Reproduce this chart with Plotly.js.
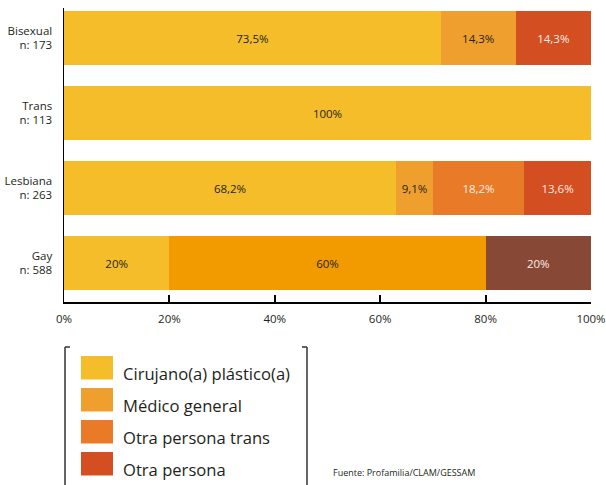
<!DOCTYPE html>
<html>
<head>
<meta charset="utf-8">
<script src="https://cdn.plot.ly/plotly-3.0.1.min.js"></script>
<style>html,body{margin:0;padding:0;background:#fff;}#chart{width:606px;height:485px;}</style>
</head>
<body>
<div id="chart"></div>
<script>
// ---- data ----
const categories = ['Bisexual', 'Trans', 'Lesbiana', 'Gay'];
const sampleSizes = [173, 113, 263, 588];

const cirujanoValues = [71.5, 100, 63.0, 20];
const cirujanoLabels = ['73,5%', '100%', '68,2%', '20%'];

const medicoValues = [14.2, null, 7.0, null];
const medicoLabels = ['14,3%', '', '9,1%', ''];

const otraTransValues = [null, null, 17.3, null];
const otraTransLabels = ['', '', '18,2%', ''];

const otraValues = [14.3, null, 12.7, null];
const otraLabels = ['14,3%', '', '13,6%', ''];

const gayMidValues = [null, null, null, 60];
const gayMidLabels = ['', '', '', '60%'];

const gayEndValues = [null, null, null, 20];
const gayEndLabels = ['', '', '', '20%'];

const xTickValues = [0, 20, 40, 60, 80, 100];
const sourceText = 'Fuente: Profamilia/CLAM/GESSAM';

// ---- styling ----
const FONT = '"Open Sans", Lato, sans-serif';
const DARK = '#231f20';
const LIGHT = '#fbeee6';

const series = [
  {name: 'Cirujano(a) plástico(a)', values: cirujanoValues, labels: cirujanoLabels, color: '#F5BD2A', text: DARK, legend: true},
  {name: 'Médico general', values: medicoValues, labels: medicoLabels, color: '#EF9F2E', text: DARK, legend: true},
  {name: 'Otra persona trans', values: otraTransValues, labels: otraTransLabels, color: '#E97B28', text: LIGHT, legend: true},
  {name: 'Otra persona', values: otraValues, labels: otraLabels, color: '#D34F21', text: LIGHT, legend: true},
  {name: 'Gay (2)', values: gayMidValues, labels: gayMidLabels, color: '#F29B00', text: DARK, legend: false},
  {name: 'Gay (3)', values: gayEndValues, labels: gayEndLabels, color: '#884836', text: LIGHT, legend: false}
];

const traces = series.map(s => ({
  type: 'bar',
  orientation: 'h',
  name: s.name,
  y: categories,
  x: s.values,
  text: s.labels,
  textposition: 'inside',
  insidetextanchor: 'middle',
  constraintext: 'none',
  textfont: {family: FONT, size: 11.5, color: s.text},
  marker: {color: s.color, line: {width: 0}},
  hoverinfo: 'skip',
  showlegend: false
}));

// layout geometry
const M = {l: 64, r: 15, t: 8, b: 183};
const PW = 606 - M.l - M.r, PH = 485 - M.t - M.b;
const px = v => (v - M.l) / PW;
const py = v => (M.t + PH - v) / PH;

const shapes = [];
const annotations = [];

// legend box brackets
const lx0 = 65, lx1 = 307, ly0 = 347, ly1 = 486;
const bracket = {color: '#333333', width: 1.5};
shapes.push({type: 'line', xref: 'paper', yref: 'paper', x0: px(lx0), x1: px(lx0), y0: py(ly0), y1: py(ly1), line: bracket});
shapes.push({type: 'line', xref: 'paper', yref: 'paper', x0: px(lx0), x1: px(lx0 + 5), y0: py(ly0), y1: py(ly0), line: bracket});
shapes.push({type: 'line', xref: 'paper', yref: 'paper', x0: px(lx1), x1: px(lx1), y0: py(ly0), y1: py(ly1), line: bracket});
shapes.push({type: 'line', xref: 'paper', yref: 'paper', x0: px(lx1 - 5), x1: px(lx1), y0: py(ly0), y1: py(ly0), line: bracket});

// legend entries
const legendSeries = series.filter(s => s.legend);
legendSeries.forEach((s, i) => {
  const top = 356 + i * 32;
  shapes.push({type: 'rect', xref: 'paper', yref: 'paper', x0: px(81), x1: px(113), y0: py(top), y1: py(top + 23.5), fillcolor: s.color, line: {width: 0}});
  annotations.push({xref: 'paper', yref: 'paper', x: px(121), y: py(top + 17.5), xanchor: 'left', yanchor: 'middle', showarrow: false, text: s.name, font: {family: FONT, size: 16.6, color: DARK}});
});

annotations.push({xref: 'paper', yref: 'paper', x: px(331), y: py(472), xanchor: 'left', yanchor: 'middle', showarrow: false, text: sourceText, font: {family: FONT, size: 9, color: DARK}});

const layout = {
  width: 606, height: 485,
  margin: M,
  paper_bgcolor: '#ffffff', plot_bgcolor: '#ffffff',
  font: {family: FONT, color: DARK},
  barmode: 'stack',
  bargap: 0.28,
  showlegend: false,
  xaxis: {
    range: [0, 100], tickvals: xTickValues, ticktext: xTickValues.map(v => v + '%'),
    showgrid: false, zeroline: false,
    showline: true, linecolor: '#000', linewidth: 2,
    ticks: 'inside', ticklen: 7, tickwidth: 2, tickcolor: '#000',
    tickfont: {family: FONT, size: 11.5, color: DARK},
    ticklabelstandoff: 5,
    fixedrange: true
  },
  yaxis: {
    type: 'category', categoryorder: 'array', categoryarray: categories,
    range: [3.52, -0.4],
    tickmode: 'array', tickvals: categories,
    ticktext: categories.map((c, i) => c + '<br>n: ' + sampleSizes[i]),
    showgrid: false, zeroline: false,
    showline: true, linecolor: '#000', linewidth: 1.5,
    ticks: '', tickfont: {family: FONT, size: 11.5, color: DARK},
    ticklabelstandoff: 8,
    fixedrange: true
  },
  shapes: shapes,
  annotations: annotations
};

Plotly.newPlot('chart', traces, layout, {staticPlot: true, displayModeBar: false});
</script>
</body>
</html>
